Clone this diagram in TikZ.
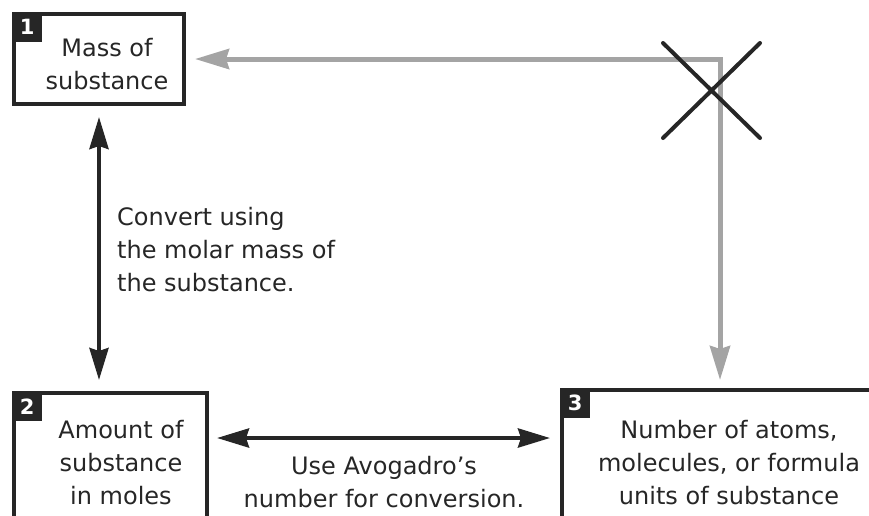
\documentclass[tikz,border=0pt]{standalone}
\usepackage{fontspec}
\setmainfont{DejaVu Sans}
\usetikzlibrary{arrows.meta}
\definecolor{encre}{HTML}{262626}
\definecolor{gris}{HTML}{A4A4A4}
\begin{document}
\begin{tikzpicture}[x=1pt,y=-1pt, % ------ Masse, moles, particules ----------------
    boite/.style={draw=encre,line width=4pt,inner sep=0pt},
    numero/.style={fill=encre,text=white,font=\fontsize{21}{21}\selectfont\bfseries,
      minimum size=30pt,inner sep=0pt,anchor=north west},
    texte/.style={text=encre,font=\fontsize{24}{33}\selectfont,align=center,inner sep=0pt},
    conversion/.style={encre,line width=4pt,<->,>={Stealth[length=32pt,width=19pt,inset=3pt]}},
    chemin/.style={gris,line width=5pt,<->,>={Stealth[length=34pt,width=20pt,inset=3pt]}}]
    \useasboundingbox (0,0) rectangle (869,515);
    \clip (0,0) rectangle (869,515);
    \node [boite,minimum width=170pt,minimum height=90pt] (masse) at (99,59) {};
    \node [boite,minimum width=193pt,minimum height=207pt] (quantite) at (110.5,496.5) {};
    \node [boite,minimum width=338pt,minimum height=210pt] (nombre) at (731,495) {};
    \node [numero] (num1) at (masse.north west) {1};
    \node [numero] (num2) at (quantite.north west) {2};
    \node [numero] (num3) at (nombre.north west) {3};
    \node [texte,anchor=north] (massetxt) at (107,38) {Mass of\\substance};
    \node [texte,anchor=north] (quantitetxt) at (121,420) {Amount of\\substance\\in moles};
    \node [texte,anchor=north] (nombretxt) at (729,420) {Number of atoms,\\molecules, or formula\\units of substance};
    \node [texte,anchor=north west,align=left] (molaire) at (117,207) {Convert using\\the molar mass of\\the substance.};
    \node [texte,anchor=north] (avogadro) at (384,456) {Use Avogadro's\\number for conversion.};
    \coordinate (coin) at (720,59);
    \coordinate (niveau) at (0,438);
    \draw [conversion,shorten <=11pt,shorten >=11pt] (masse.south) -- (quantite.north -| masse.south);
    \draw [conversion,shorten <=8pt,shorten >=10pt] (quantite.east |- niveau) -- (nombre.west |- niveau);
    \draw [chemin,shorten <=9pt,shorten >=8pt] (masse.east) -- (coin) -- (coin |- nombre.north);
    \draw [encre,line width=4pt,line cap=round] (663,43) -- (760,138) (760,43) -- (663,138);
\end{tikzpicture}
\end{document}
